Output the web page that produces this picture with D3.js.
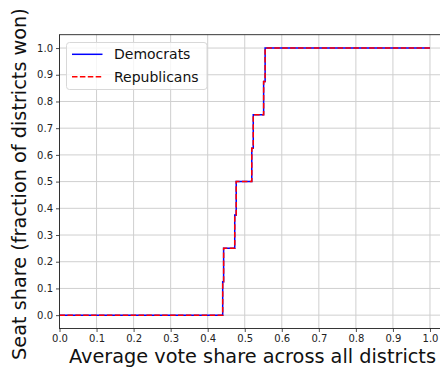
<!DOCTYPE html>
<html>
<head>
<meta charset="utf-8">
<script src="https://cdn.jsdelivr.net/npm/d3@7"></script>
<style>
  html, body { margin: 0; padding: 0; background: #fff; }
  svg { display: block; font-family: "DejaVu Sans", sans-serif; }
</style>
</head>
<body>
<svg id="chart" width="440" height="368"></svg>
<script>
// Seats-votes curve: vote share at which each district flips, and the seat share reached
const demVotes = [0, 0.4405, 0.443, 0.473, 0.477, 0.519, 0.523, 0.551, 0.555, 1.0];
const demSeats = [0, 0.125, 0.25, 0.375, 0.5, 0.625, 0.75, 0.875, 1.0, 1.0];
const repVotes = [0, 0.4405, 0.443, 0.473, 0.477, 0.519, 0.523, 0.551, 0.555, 1.0];
const repSeats = [0, 0.125, 0.25, 0.375, 0.5, 0.625, 0.75, 0.875, 1.0, 1.0];
const xTicks = [0, 0.1, 0.2, 0.3, 0.4, 0.5, 0.6, 0.7, 0.8, 0.9, 1.0];
const yTicks = [0, 0.1, 0.2, 0.3, 0.4, 0.5, 0.6, 0.7, 0.8, 0.9, 1.0];
const seriesNames = ["Democrats", "Republicans"];

const svg = d3.select("#chart");
const plot = { left: 59.5, right: 448.5, top: 34.7, bottom: 328.5 };

const x = d3.scaleLinear().domain([0, 1.05]).range([plot.left, plot.right]);
const y = d3.scaleLinear().domain([-0.05, 1.05]).range([plot.bottom, plot.top]);

// grid
const grid = svg.append("g");
grid.selectAll("line.gx").data(xTicks).join("line")
  .attr("x1", d => x(d)).attr("x2", d => x(d))
  .attr("y1", plot.top).attr("y2", plot.bottom)
  .attr("stroke", "#cfcfcf").attr("stroke-width", 1);
grid.selectAll("line.gy").data(yTicks).join("line")
  .attr("y1", d => y(d)).attr("y2", d => y(d))
  .attr("x1", plot.left).attr("x2", plot.right)
  .attr("stroke", "#cfcfcf").attr("stroke-width", 1);

// step lines
const line = d3.line().curve(d3.curveStepAfter)
  .x(d => x(d[0])).y(d => y(d[1]));
const dem = demVotes.map((v, i) => [v, demSeats[i]]);
const rep = repVotes.map((v, i) => [v, repSeats[i]]);

svg.append("path").attr("d", line(dem))
  .attr("fill", "none").attr("stroke", "#0000ff").attr("stroke-width", 1.5);
svg.append("path").attr("d", line(rep))
  .attr("fill", "none").attr("stroke", "#ff0000").attr("stroke-width", 1.5)
  .attr("stroke-dasharray", "5.5,2.4");

// axes
const xAxis = d3.axisBottom(x).tickValues(xTicks).tickFormat(d3.format(".1f"))
  .tickSizeInner(3.5).tickSizeOuter(0).tickPadding(3);
const yAxis = d3.axisLeft(y).tickValues(yTicks).tickFormat(d3.format(".1f"))
  .tickSizeInner(3.5).tickSizeOuter(0).tickPadding(3);

const gx = svg.append("g").attr("transform", `translate(0,${plot.bottom})`).call(xAxis);
const gy = svg.append("g").attr("transform", `translate(${plot.left},0)`).call(yAxis);
[gx, gy].forEach(g => {
  g.select(".domain").remove();
  g.selectAll(".tick line").attr("stroke", "#222").attr("stroke-width", 0.8);
  g.selectAll(".tick text").attr("fill", "#222").attr("font-size", 10)
    .attr("font-family", "DejaVu Sans, sans-serif");
});

// spines
svg.append("rect").attr("x", plot.left).attr("y", plot.top)
  .attr("width", plot.right - plot.left).attr("height", plot.bottom - plot.top)
  .attr("fill", "none").attr("stroke", "#222").attr("stroke-width", 0.9);

// axis titles
svg.append("text").attr("x", 252.5).attr("y", 362.5)
  .attr("text-anchor", "middle").attr("font-size", 19.3).attr("fill", "#111")
  .text("Average vote share across all districts");
svg.append("text")
  .attr("transform", `translate(20,184) rotate(-90)`)
  .attr("text-anchor", "middle").attr("dominant-baseline", "middle")
  .attr("font-size", 19.3).attr("fill", "#111")
  .text("Seat share (fraction of districts won)");

// legend
const lg = svg.append("g");
lg.append("rect").attr("x", 66.5).attr("y", 42.5).attr("width", 140.5).attr("height", 47)
  .attr("rx", 3).attr("fill", "#fff").attr("fill-opacity", 0.8)
  .attr("stroke", "#d8d8d8").attr("stroke-width", 1);
const legendItems = [
  { name: seriesNames[0], color: "#0000ff", dash: null },
  { name: seriesNames[1], color: "#ff0000", dash: "5.5,2.4" }
];
legendItems.forEach((it, i) => {
  const yy = 54.3 + i * 22.4;
  lg.append("line").attr("x1", 72).attr("x2", 102.5).attr("y1", yy).attr("y2", yy)
    .attr("stroke", it.color).attr("stroke-width", 1.5)
    .attr("stroke-dasharray", it.dash);
  lg.append("text").attr("x", 114).attr("y", yy + 5).attr("font-size", 14)
    .attr("fill", "#111").text(it.name);
});
</script>
</body>
</html>
